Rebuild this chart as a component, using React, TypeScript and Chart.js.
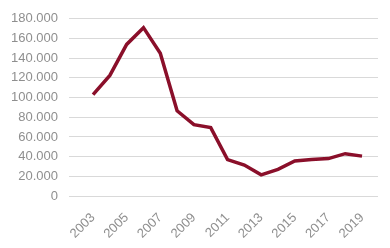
import React, { useEffect, useRef } from "react";
import { Chart, registerables } from "chart.js";

Chart.register(...registerables);

const years = [2003, 2004, 2005, 2006, 2007, 2008, 2009, 2010, 2011, 2012, 2013, 2014, 2015, 2016, 2017, 2018, 2019];
const values = [103000, 122500, 154000, 171000, 145000, 86500, 72500, 69500, 37000, 31500, 21500, 27000, 35500, 37000, 38000, 43000, 40500];
const tickYears = [2003, 2005, 2007, 2009, 2011, 2013, 2015, 2017, 2019];

const fmt = (v: number) => String(Math.round(v)).replace(/\B(?=(\d{3})+(?!\d))/g, ".");

export default function App() {
  const ref = useRef<HTMLCanvasElement | null>(null);
  useEffect(() => {
    document.body.style.margin = "0";
    const ctx = ref.current!;
    const chart = new Chart(ctx, {
      type: "line",
      data: {
        datasets: [
          {
            data: years.map((y, i) => ({ x: y, y: values[i] })),
            borderColor: "#8a0f2a",
            borderWidth: 3.5,
            pointRadius: 0,
            tension: 0,
            fill: false,
          },
        ],
      },
      options: {
        animation: false,
        responsive: false,
        maintainAspectRatio: false,
        plugins: { legend: { display: false }, tooltip: { enabled: false } },
        layout: { padding: { top: 16, right: 12, left: 0, bottom: 0 } },
        scales: {
          x: {
            type: "linear",
            min: 2001.57,
            max: 2019.95,
            grid: { display: false },
            border: { display: false },
            afterBuildTicks: (axis: any) => {
              axis.ticks = tickYears.map((v) => ({ value: v }));
            },
            afterFit: (s: any) => {
              s.height = 52;
            },
            ticks: {
              color: "#8f8f8f",
              font: { family: "Liberation Sans, Arial", size: 13 },
              maxRotation: 45,
              minRotation: 45,
              autoSkip: false,
              padding: 6,
              callback: (v: any) => String(v),
            },
          },
          y: {
            min: 0,
            max: 180000,
            grid: { color: "#d9d9d9", lineWidth: 1, drawTicks: false },
            border: { display: false },
            afterFit: (s: any) => {
              s.width = 69;
            },
            ticks: {
              stepSize: 20000,
              color: "#8f8f8f",
              font: { family: "Liberation Sans, Arial", size: 13 },
              padding: 11,
              callback: (v: any) => fmt(Number(v)),
            },
          },
        },
      },
    } as any);
    return () => chart.destroy();
  }, []);
  return (
    <div style={{ width: 390, height: 248, position: "relative" }}>
      <canvas ref={ref} width={390} height={248} style={{ display: "block" }} />
    </div>
  );
}
